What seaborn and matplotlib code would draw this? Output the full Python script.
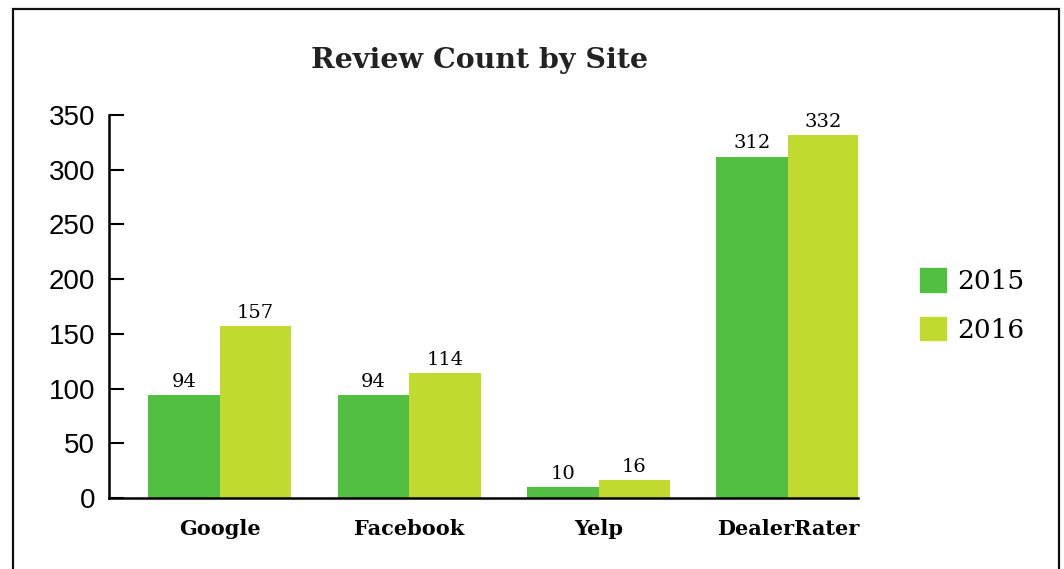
import matplotlib
matplotlib.use("Agg")
import matplotlib.pyplot as plt
import matplotlib.patches as mpatches
import seaborn as sns
import pandas as pd

sites = ["Google", "Facebook", "Yelp", "DealerRater"]
years = ["2015", "2016"]
counts_2015 = [94, 94, 10, 312]
counts_2016 = [157, 114, 16, 332]
yticks = [0, 50, 100, 150, 200, 250, 300, 350]
colors = {"2015": "#52BF42", "2016": "#C2D92F"}

df = pd.DataFrame({
    "Site": sites * 2,
    "Year": ["2015"] * len(sites) + ["2016"] * len(sites),
    "Count": counts_2015 + counts_2016,
})

sns.set_theme(style="white")
plt.rcParams["font.family"] = ["DejaVu Serif"]
plt.rcParams["text.color"] = "black"
plt.rcParams["xtick.color"] = "black"
plt.rcParams["ytick.color"] = "black"

W, H = 1064, 569
fig = plt.figure(figsize=(W / 100, H / 100), dpi=100)
ax = fig.add_axes([109 / W, 1 - 498 / H, (858 - 109) / W, (498 - 115) / H])

sns.barplot(data=df, x="Site", y="Count", hue="Year", order=sites, hue_order=years,
            palette=colors, saturation=1, width=0.755, ax=ax, legend=False,
            linewidth=0, edgecolor="none")

for c in ax.containers:
    ax.bar_label(c, padding=3, fontsize=14, family="DejaVu Serif", color="black")

ax.set_ylim(0, 350)
ax.set_xlim(-0.585, 3.37)
ax.set_yticks(yticks)
ax.set_yticklabels([str(v) for v in yticks], family="Liberation Sans", fontsize=20, color="black")
ax.set_xlabel("")
ax.set_ylabel("")
for lab in ax.get_xticklabels():
    lab.set_fontweight("bold")
    lab.set_fontsize(15)
    lab.set_family("DejaVu Serif")
    lab.set_color("black")

ax.tick_params(axis="y", direction="in", length=11, width=1.5, color="black", pad=10, left=True)
ax.tick_params(axis="x", length=0, pad=15)
for s in ["top", "right"]:
    ax.spines[s].set_visible(False)
for s in ["left", "bottom"]:
    ax.spines[s].set_color("black")
    ax.spines[s].set_linewidth(1.8)

handles = [mpatches.Patch(color=colors[y], label=y) for y in years]
leg = fig.legend(handles=handles, loc="center left", bbox_to_anchor=(920 / W, 1 - 305.5 / H),
                 frameon=False, fontsize=19, handlelength=1.0, handleheight=1.0,
                 labelspacing=0.85, handletextpad=0.4, borderpad=0, borderaxespad=0)
for t in leg.get_texts():
    t.set_color("black")

fig.text(480 / W, 1 - 61 / H, "Review Count by Site", ha="center", va="center",
         fontsize=20.5, fontweight="bold", family="DejaVu Serif", color="#222222")

border = mpatches.Rectangle((13 / W, -0.1), (1059 - 13) / W, 1.1 - 9 / H,
                            transform=fig.transFigure, fill=False, edgecolor="#111111",
                            linewidth=1.6)
fig.patches.append(border)

fig.savefig("out.png", dpi=100)
